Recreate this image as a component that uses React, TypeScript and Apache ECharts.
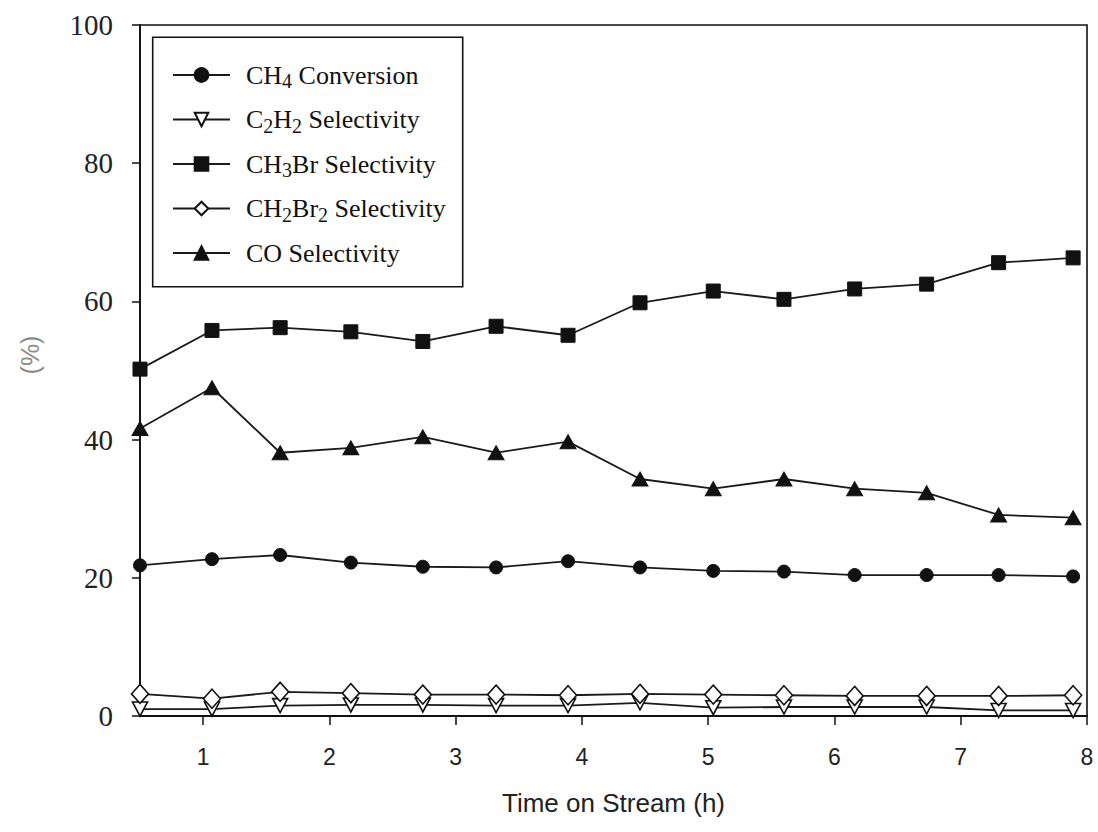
import React, { useEffect, useRef } from "react";
import * as echarts from "echarts";

const timeH = [0.5, 1.07, 1.61, 2.17, 2.74, 3.32, 3.89, 4.46, 5.04, 5.6, 6.16, 6.73, 7.3, 7.89];
const ch4Conversion = [21.8, 22.7, 23.3, 22.2, 21.6, 21.5, 22.4, 21.5, 21.0, 20.9, 20.4, 20.4, 20.4, 20.2];
const c2h2Selectivity = [1.0, 1.0, 1.5, 1.6, 1.6, 1.5, 1.5, 1.9, 1.2, 1.3, 1.3, 1.3, 0.8, 0.8];
const ch3brSelectivity = [50.2, 55.8, 56.2, 55.6, 54.2, 56.4, 55.1, 59.8, 61.5, 60.3, 61.8, 62.5, 65.6, 66.3];
const ch2br2Selectivity = [3.2, 2.5, 3.5, 3.3, 3.1, 3.1, 3.0, 3.2, 3.1, 3.0, 2.9, 2.9, 2.9, 3.0];
const coSelectivity = [41.6, 47.5, 38.1, 38.8, 40.4, 38.1, 39.7, 34.3, 32.9, 34.3, 32.9, 32.3, 29.1, 28.7];

const xTicks = [1, 2, 3, 4, 5, 6, 7, 8];
const seriesNames = [
  "CH4 Conversion",
  "C2H2 Selectivity",
  "CH3Br Selectivity",
  "CH2Br2 Selectivity",
  "CO Selectivity",
];
const legendRich: Record<string, string> = {
  "CH4 Conversion": "{n|CH}{s|4}{n| Conversion}",
  "C2H2 Selectivity": "{n|C}{s|2}{n|H}{s|2}{n| Selectivity}",
  "CH3Br Selectivity": "{n|CH}{s|3}{n|Br Selectivity}",
  "CH2Br2 Selectivity": "{n|CH}{s|2}{n|Br}{s|2}{n| Selectivity}",
  "CO Selectivity": "{n|CO Selectivity}",
};

const pairs = (ys: number[]) => timeH.map((t, i) => [t, ys[i]]);

export default function App() {
  const ref = useRef<HTMLDivElement>(null);
  useEffect(() => {
    document.body.style.margin = "0";
    const chart = echarts.init(ref.current!, null, { renderer: "svg" });
    const lineStyle = { color: "#1a1a1a", width: 1.8 };
    const filled = { color: "#111", borderColor: "#111", borderWidth: 1 };
    const open = { color: "#fff", borderColor: "#111", borderWidth: 1.6 };
    const mk = (name: string, ys: number[], symbol: string, size: any, style: any, rotate = 0) => ({
      name,
      type: "line",
      data: pairs(ys),
      symbol,
      symbolSize: size,
      symbolRotate: rotate,
      showSymbol: true,
      clip: false,
      lineStyle,
      itemStyle: style,
      emphasis: { disabled: true },
    });
    chart.setOption({
      animation: false,
      backgroundColor: "#fff",
      grid: {
        left: 140,
        right: 11,
        top: 25,
        bottom: 116,
        show: true,
        borderColor: "#111",
        borderWidth: 1.6,
        containLabel: false,
      },
      legend: {
        left: 172,
        top: 62,
        orient: "vertical",
        itemWidth: 57,
        itemHeight: 17,
        itemGap: 15.5,
        padding: 0,
        data: seriesNames,
        formatter: (name: string) => legendRich[name],
        textStyle: {
          padding: [0, 0, 0, 11],
          rich: {
            n: { fontFamily: "Liberation Serif", fontSize: 26, lineHeight: 32, color: "#111" },
            s: { fontFamily: "Liberation Serif", fontSize: 20, lineHeight: 20, verticalAlign: "bottom", color: "#111" },
          },
        },
      },
      graphic: [
        {
          type: "rect",
          shape: { x: 152.7, y: 37.3, width: 310, height: 249.4 },
          style: { fill: "none", stroke: "#111", lineWidth: 1.6 },
          z: 10,
        },
        {
          type: "text",
          x: 30,
          y: 355,
          rotation: Math.PI / 2,
          style: {
            text: "(%)",
            fontFamily: "Liberation Sans",
            fontSize: 25,
            fill: "#8a8a8a",
            textAlign: "center",
            textVerticalAlign: "middle",
          },
        },
      ],
      xAxis: {
        type: "value",
        min: 0.5,
        max: 8,
        name: "Time on Stream (h)",
        nameLocation: "middle",
        nameGap: 74,
        nameTextStyle: { fontFamily: "Liberation Sans", fontSize: 26, color: "#222", verticalAlign: "top" },
        axisLine: { show: true, lineStyle: { color: "#111", width: 1.8 } },
        axisTick: { show: true, customValues: xTicks, length: 9, lineStyle: { color: "#111", width: 1.5 } },
        axisLabel: {
          customValues: xTicks,
          margin: 29,
          fontFamily: "Liberation Sans",
          fontSize: 23,
          color: "#222",
        },
        splitLine: { show: false },
      },
      yAxis: {
        type: "value",
        min: 0,
        max: 100,
        interval: 20,
        axisLine: { show: true, lineStyle: { color: "#111", width: 1.8 } },
        axisTick: { show: true, length: 8, lineStyle: { color: "#111", width: 1.5 } },
        axisLabel: {
          margin: 27,
          fontFamily: "Liberation Serif",
          fontSize: 29,
          color: "#222",
        },
        splitLine: { show: false },
      },
      series: [
        mk(seriesNames[0], ch4Conversion, "circle", 13, filled),
        mk(seriesNames[1], c2h2Selectivity, "triangle", [15, 14], open, 180),
        mk(seriesNames[2], ch3brSelectivity, "rect", 14, filled),
        mk(seriesNames[3], ch2br2Selectivity, "diamond", [17, 19], open),
        mk(seriesNames[4], coSelectivity, "triangle", [16, 14], filled),
      ],
    });
    return () => chart.dispose();
  }, []);
  return <div ref={ref} style={{ width: 1098, height: 832 }} />;
}
